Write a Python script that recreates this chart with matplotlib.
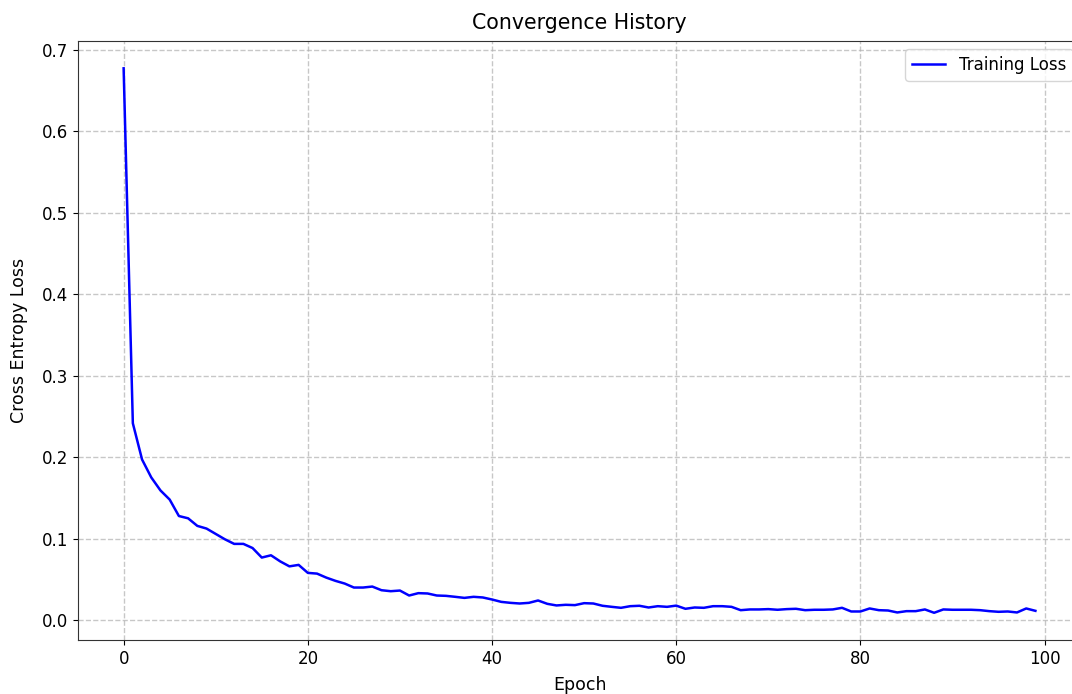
import numpy as np
import matplotlib
matplotlib.use("Agg")
import matplotlib.pyplot as plt

# training loss per epoch
epochs = np.arange(100)
loss = [
    0.6775, 0.2417, 0.1972, 0.1752, 0.1592, 0.1480, 0.1278, 0.1250, 0.1157, 0.1124,
    0.1058, 0.0992, 0.0936, 0.0936, 0.0885, 0.0768, 0.0796, 0.0721, 0.0660, 0.0678,
    0.0580, 0.0571, 0.0522, 0.0482, 0.0449, 0.0400, 0.0400, 0.0412, 0.0367, 0.0355,
    0.0363, 0.0302, 0.0331, 0.0327, 0.0302, 0.0298, 0.0286, 0.0273, 0.0286, 0.0278,
    0.0253, 0.0224, 0.0212, 0.0204, 0.0212, 0.0241, 0.0200, 0.0180, 0.0188, 0.0184,
    0.0208, 0.0204, 0.0176, 0.0163, 0.0151, 0.0171, 0.0176, 0.0155, 0.0171, 0.0163,
    0.0178, 0.0139, 0.0155, 0.0151, 0.0171, 0.0171, 0.0163, 0.0122, 0.0131, 0.0131,
    0.0135, 0.0127, 0.0135, 0.0139, 0.0122, 0.0127, 0.0127, 0.0131, 0.0151, 0.0106,
    0.0106, 0.0143, 0.0122, 0.0118, 0.0094, 0.0110, 0.0110, 0.0131, 0.0090, 0.0131,
    0.0127, 0.0127, 0.0127, 0.0122, 0.0110, 0.0102, 0.0106, 0.0094, 0.0143, 0.0114,
]

fig = plt.figure(figsize=(10.72, 6.94), dpi=100)
# right spine sits just past the figure edge, as in the cropped reference
ax = fig.add_axes([0.0728, 0.0778, 0.9356, 0.863])
ax.plot(epochs, loss, color="blue", lw=1.8, label="Training Loss")
ax.grid(True, linestyle="--", color="#b0b0b0", alpha=0.7, lw=1.0)
ax.set_title("Convergence History", fontsize=14.8, pad=9)
ax.set_xlabel("Epoch", fontsize=12.5, labelpad=6)
ax.set_ylabel("Cross Entropy Loss", fontsize=12.5, labelpad=10)
ax.tick_params(labelsize=12)
ax.legend(loc="upper right", fontsize=12)
for s in ax.spines.values():
    s.set_color("#333333")
fig.savefig("out.png", dpi=100)
